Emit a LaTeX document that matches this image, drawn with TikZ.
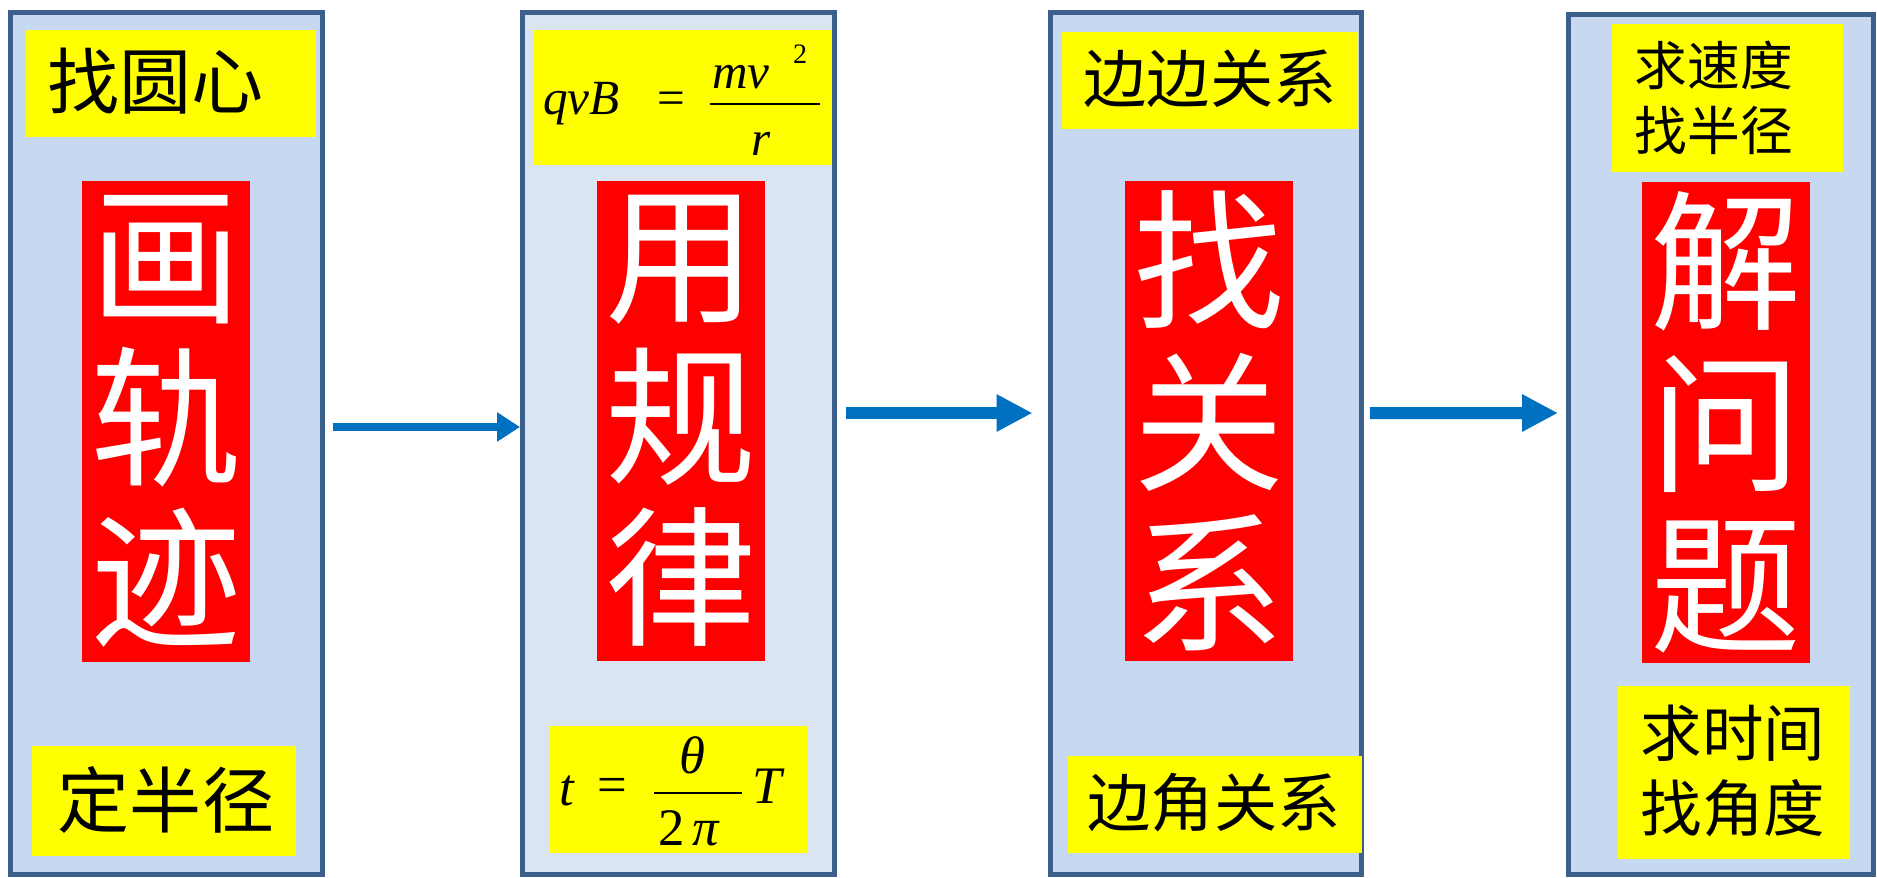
\documentclass[tikz,border=0pt]{standalone}
\usepackage{fontspec}
\setmainfont{Liberation Serif}
\newfontfamily\cjk{Noto Sans CJK SC}
\usetikzlibrary{arrows.meta}
\definecolor{boxfill}{RGB}{198,217,241}
\definecolor{boxfillb}{RGB}{219,229,241}
\definecolor{boxline}{RGB}{60,95,140}
\definecolor{arrblue}{RGB}{0,112,192}
\definecolor{hl}{RGB}{255,255,0}
\definecolor{bigred}{RGB}{255,0,0}
\begin{document}
\begin{tikzpicture}[x=0.02cm,y=-0.02cm,
  panel/.style={draw=boxline,line width=0.1cm,fill=boxfill,inner sep=0pt,outer sep=0pt,minimum width=6.24cm,minimum height=17.25cm},
  tag/.style={fill=hl,inner sep=0pt,outer sep=0pt},
  redbar/.style={fill=bigred,inner sep=0pt,outer sep=0pt,minimum width=3.36cm,minimum height=9.62cm,text=white,align=center,font=\cjk\fontsize{86}{92}\selectfont},
  word/.style={inner sep=0pt,outer sep=0pt,text=black,align=center},
  fm/.style={inner sep=0pt,outer sep=0pt,text=black},
  thinarrow/.style={draw=arrblue,line width=0.16cm,-{Triangle[length=0.46cm,width=0.56cm]}},
  thickarrow/.style={draw=arrblue,line width=0.24cm,-{Triangle[length=0.72cm,width=0.7cm]}}
]
\useasboundingbox (0,0) rectangle (1877,878);

% panels
\node[panel] (box1) at (166.5,443.75) {};
\node[panel,fill=boxfillb] (box2) at (678.5,443.75) {};
\node[panel,minimum width=6.22cm] (box3) at (1206,443.75) {};
\node[panel,minimum width=6.1cm,minimum height=17.21cm] (box4) at (1721,444.75) {};

% yellow tags
\node[tag,minimum width=5.8cm,minimum height=2.14cm] (y1t) at (171,83.5) {};
\node[tag,minimum width=5.28cm,minimum height=2.2cm] (y1b) at (164,801) {};
\node[tag,minimum width=5.98cm,minimum height=2.7cm] (y2t) at (682.5,97.5) {};
\node[tag,minimum width=5.16cm,minimum height=2.54cm] (y2b) at (679,789.5) {};
\node[tag,minimum width=5.92cm,minimum height=1.94cm] (y3t) at (1210,80.5) {};
\node[tag,minimum width=5.88cm,minimum height=1.94cm] (y3b) at (1215,804.5) {};
\node[tag,minimum width=4.62cm,minimum height=2.96cm] (y4t) at (1727.5,98) {};
\node[tag,minimum width=4.64cm,minimum height=3.46cm] (y4b) at (1734,772.5) {};

% red bars
\node[redbar] (r1) at (166,421.5) {画\\轨\\迹};
\node[redbar] (r2) at (681,421) {用\\规\\律};
\node[redbar] (r3) at (1209,421) {找\\关\\系};
\node[redbar] (r4) at (1726,422.5) {解\\问\\题};

% tag texts
\node[word,font=\cjk\fontsize{41}{48}\selectfont] (t1a) at (155.5,81.5) {找圆心};
\node[word,font=\cjk\fontsize{41}{48}\selectfont] (t1b) at (166,800) {定半径};
\node[word,font=\cjk\fontsize{36}{42}\selectfont] (t3a) at (1210,79) {边边关系};
\node[word,font=\cjk\fontsize{36}{42}\selectfont] (t3b) at (1214,802.5) {边角关系};
\node[word,font=\cjk\fontsize{30}{37}\selectfont] (t4a) at (1714,97.5) {求速度\\找半径};
\node[word,font=\cjk\fontsize{35}{43}\selectfont] (t4b) at (1733,771) {求时间\\找角度};

% formula 1: qvB = mv^2 / r
\node[fm,anchor=base west,font=\fontsize{28}{32}\selectfont] (f1q) at (543,115) {\itshape qvB};
\node[fm,font=\fontsize{28}{32}\selectfont] (f1eq) at (671,103) {=};
\node[fm,anchor=base,font=\fontsize{28}{32}\selectfont] (f1num) at (741,89) {\itshape mv};
\node[fm,anchor=base west,font=\fontsize{16}{18}\selectfont] (f1sup) at (793,64) {2};
\draw[line width=0.045cm] (710,104) -- (820,104);
\node[fm,anchor=base,font=\fontsize{28}{32}\selectfont] (f1r) at (761,156) {\itshape r};

% formula 2: t = theta / (2 pi) T
\node[fm,anchor=base west,font=\fontsize{30}{34}\selectfont] (f2t) at (559,805) {\itshape t};
\node[fm,font=\fontsize{30}{34}\selectfont] (f2eq) at (612,790) {=};
\node[fm,anchor=base,font=\fontsize{30}{34}\selectfont] (f2num) at (692,773) {\itshape θ};
\draw[line width=0.045cm] (654,793) -- (742,793);
\node[fm,anchor=base,font=\fontsize{30}{34}\selectfont] (f2den) at (689,845) {2\hspace{0.15em}\itshape π};
\node[fm,anchor=base west,font=\fontsize{30}{34}\selectfont] (f2T) at (752,803) {\itshape T};

% arrows
\draw[thinarrow] ([xshift=0.21cm,yshift=0.335cm]box1.east) -- ([xshift=-0.05cm,yshift=0.335cm]box2.west);
\draw[thickarrow] ([xshift=0.23cm,yshift=0.615cm]box2.east) -- ([xshift=-0.36cm,yshift=0.615cm]box3.west);
\draw[thickarrow] ([xshift=0.17cm,yshift=0.615cm]box3.east) -- ([xshift=-0.21cm,yshift=0.635cm]box4.west);
\end{tikzpicture}
\end{document}
